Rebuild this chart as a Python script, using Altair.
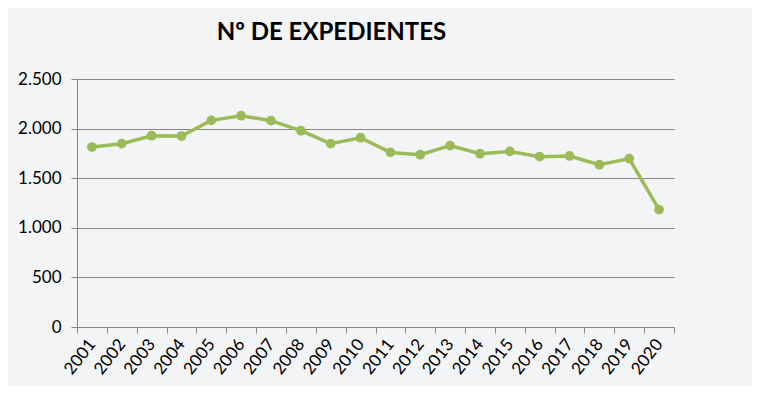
import altair as alt
import pandas as pd

years = [str(y) for y in range(2001, 2021)]
values = [1814, 1848, 1928, 1925, 2083, 2130, 2080, 1979, 1848, 1908,
          1760, 1737, 1828, 1747, 1770, 1717, 1724, 1636, 1697, 1183]

df = pd.DataFrame({"year": years, "value": values})

FONT = "Lato"
GREEN = "#9BBB59"
GRID = "#878787"

base = alt.Chart(df).encode(
    x=alt.X("year:N", sort=years, title=None,
            scale=alt.Scale(paddingInner=0, paddingOuter=0),
            axis=alt.Axis(labelAngle=-52, labelAlign="right", labelBaseline="middle",
                          labelFontSize=17, labelFont=FONT, labelColor="#000000",
                          labelPadding=8, tickBand="extent", tickSize=6,
                          tickColor=GRID, domainColor=GRID, grid=False)),
    y=alt.Y("value:Q", title=None,
            scale=alt.Scale(domain=[0, 2500], nice=False),
            axis=alt.Axis(values=[0, 500, 1000, 1500, 2000, 2500],
                          labelExpr="replace(format(datum.value, ','), ',', '.')",
                          labelFontSize=17, labelFont=FONT, labelColor="#000000",
                          labelPadding=10, tickSize=6, tickColor=GRID,
                          domainColor=GRID, gridColor=GRID, gridOpacity=1,
                          gridWidth=1.2)),
)

line = base.mark_line(color=GREEN, strokeWidth=3.5)
pts = base.mark_circle(color=GREEN, size=95, opacity=1)

chart = (line + pts).properties(
    width=597, height=248,
    background="#F3F4F6",
    padding={"left": 69, "top": 71, "right": 78, "bottom": 59},
    autosize=alt.AutoSizeParams(type="none"),
    title=alt.TitleParams("Nº DE EXPEDIENTES", font=FONT, fontSize=24,
                          fontWeight="bold", color="#000000", anchor="middle",
                          dx=-44, offset=6, baseline="alphabetic"),
).configure_view(stroke=None)

chart.save("out.html", embed_options={"renderer": "svg", "actions": False})
